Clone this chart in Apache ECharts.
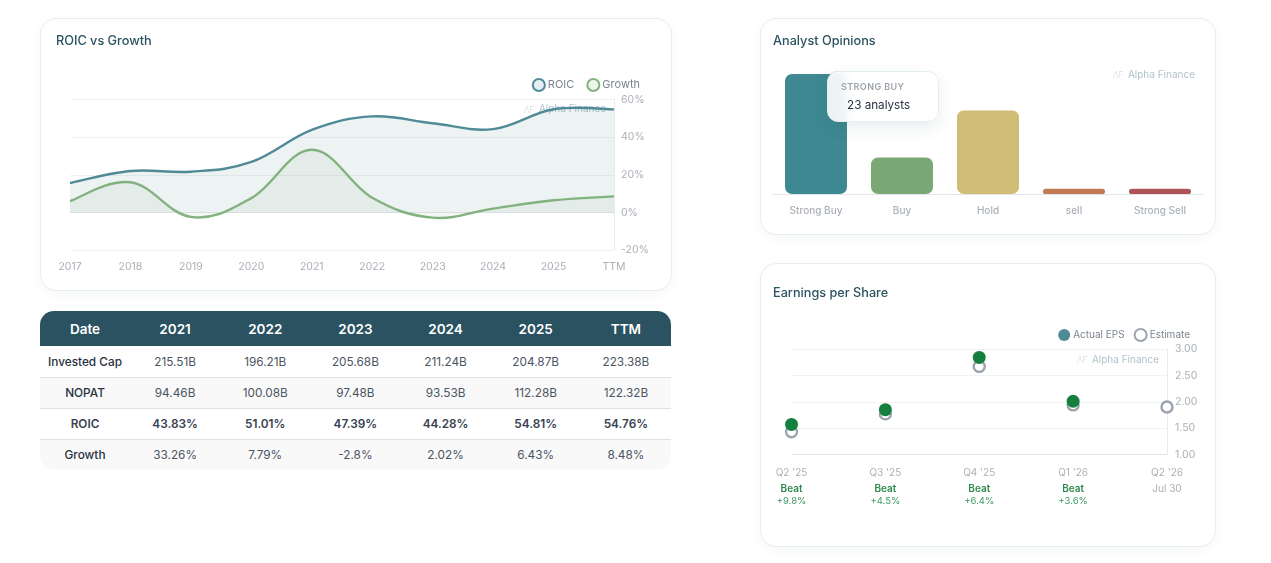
<!DOCTYPE html>
<html>
<head>
<meta charset="utf-8">
<title>Financial overview</title>
<script src="https://cdn.jsdelivr.net/npm/echarts@6/dist/echarts.min.js"></script>
<style>
  html, body { margin: 0; padding: 0; background: #fff; font-family: Inter, sans-serif; }
  body { position: relative; width: 1271px; height: 563px; overflow: hidden; }
  .card { position: absolute; box-sizing: border-box; background: #fff; border: 1px solid #e6edef;
          border-radius: 16px; box-shadow: 0 4px 12px rgba(42, 82, 97, 0.04); }
  .chart { position: absolute; left: -1px; top: -1px; }
  #metrics { position: absolute; left: 40px; top: 311px; width: 631px; border-collapse: separate;
             border-spacing: 0; table-layout: fixed; font-size: 11.8px; color: #4b5563; }
  #metrics th { background: #2a5261; color: #fff; height: 35px; padding: 0; font-size: 13.5px; font-weight: 600; text-align: center; }
  #metrics th:first-child { border-top-left-radius: 14px; width: 90px; }
  #metrics th:last-child { border-top-right-radius: 14px; }
  #metrics td { height: 30px; padding: 0; text-align: center; border-bottom: 1px solid #dfe1e4; }
  #metrics tr:first-child td { height: 31px; }
  #metrics td:first-child { color: #27323f; font-weight: 500; }
  #metrics tr:nth-child(even) td { background: #f9f9f9; }
  #metrics tr.strong td { font-weight: 600; color: #374151; }
  #metrics tr:last-child td { border-bottom: none; height: 30px; }
  #metrics tr:last-child td:first-child { border-bottom-left-radius: 14px; }
  #metrics tr:last-child td:last-child { border-bottom-right-radius: 14px; }
</style>
</head>
<body>
<div class="card" style="left:40px;top:18px;width:632px;height:273px"><div class="chart" id="roicChart" style="width:632px;height:273px"></div></div>
<table id="metrics"><thead></thead><tbody></tbody></table>
<div class="card" style="left:760px;top:18px;width:456px;height:217px"><div class="chart" id="analystChart" style="width:456px;height:217px"></div></div>
<div class="card" style="left:760px;top:263px;width:456px;height:284px"><div class="chart" id="epsChart" style="width:456px;height:284px"></div></div>

<script>
// ROIC vs Growth
const roicYears = ['2017', '2018', '2019', '2020', '2021', '2022', '2023', '2024', '2025', 'TTM'];
const roicValues = [15.6, 22, 21.6, 26.8, 43.83, 51.01, 47.39, 44.28, 54.81, 54.76];
const growthValues = [6, 16, -2.4, 7.6, 33.26, 7.79, -2.8, 2.02, 6.43, 8.48];
const roicTicks = [-20, 0, 20, 40, 60];

// Metrics table
const tableHeader = ['Date', '2021', '2022', '2023', '2024', '2025', 'TTM'];
const investedCap = ['Invested Cap', '215.51B', '196.21B', '205.68B', '211.24B', '204.87B', '223.38B'];
const nopat = ['NOPAT', '94.46B', '100.08B', '97.48B', '93.53B', '112.28B', '122.32B'];
const roicRow = ['ROIC', '43.83%', '51.01%', '47.39%', '44.28%', '54.81%', '54.76%'];
const growthRow = ['Growth', '33.26%', '7.79%', '-2.8%', '2.02%', '6.43%', '8.48%'];

// Analyst opinions
const opinionLabels = ['Strong Buy', 'Buy', 'Hold', 'sell', 'Strong Sell'];
const opinionCounts = [23, 7, 16, 1, 1];
const opinionColors = ['#3d8891', '#7aa874', '#d1bc76', '#c27a55', '#b05555'];

// Earnings per share
const epsQuarters = ["Q2 '25", "Q3 '25", "Q4 '25", "Q1 '26", "Q2 '26"];
const epsActual = [1.57, 1.85, 2.84, 2.01, null];
const epsEstimate = [1.43, 1.77, 2.67, 1.94, 1.9];
const epsStatus = ['Beat', 'Beat', 'Beat', 'Beat', 'Jul 30'];
const epsSurprise = ['+9.8%', '+4.5%', '+6.4%', '+3.6%', ''];

const FONT = 'Inter, sans-serif';
const AXIS_TEXT = '#abb0b7';
const TITLE_COLOR = '#2a5261';

function cardTitle(text, left, top) {
  return { text, left, top, padding: [0, 0, 0, 0], textStyle: { fontFamily: FONT, fontSize: 12.7, fontWeight: 500, color: TITLE_COLOR } };
}

// Brand mark placed inside a chart; x is the right edge of the text, y its vertical centre.
function watermark(x, y) {
  return {
    type: 'group', silent: true, z: 5,
    children: [
      { type: 'text', x, y, style: { text: 'Alpha Finance', fontFamily: FONT, fontSize: 10, fill: '#b2c3ca', verticalAlign: 'middle', textAlign: 'right' } },
      { type: 'text', x: x - 82, y: y + 1, style: { text: '\u039BF', fontFamily: FONT, fontSize: 8.5, fontWeight: 200, fill: '#c3d0d5', verticalAlign: 'middle', textAlign: 'left' } }
    ]
  };
}

// Spline through one series' points, with the area down to the zero line.
function splineSeries(name, values, lineColor, fillColor, ringFill) {
  const tension = 0.19;
  return {
    name, type: 'custom', coordinateSystem: 'cartesian2d',
    data: values.map((v, i) => [i, v]),
    encode: { x: 0, y: 1 },
    itemStyle: { color: ringFill, borderColor: lineColor, borderWidth: 3 },
    renderItem: (params, api) => {
      if (params.dataIndex !== 0) return null;
      const pts = values.map((v, i) => api.coord([i, v]));
      const zeroY = api.coord([0, 0])[1];
      let d = `M${pts[0][0]} ${pts[0][1]}`;
      for (let i = 0; i < pts.length - 1; i++) {
        const p0 = pts[Math.max(i - 1, 0)], p1 = pts[i], p2 = pts[i + 1], p3 = pts[Math.min(i + 2, pts.length - 1)];
        d += `C${p1[0] + (p2[0] - p0[0]) * tension} ${p1[1] + (p2[1] - p0[1]) * tension} ` +
             `${p2[0] - (p3[0] - p1[0]) * tension} ${p2[1] - (p3[1] - p1[1]) * tension} ${p2[0]} ${p2[1]}`;
      }
      const last = pts[pts.length - 1];
      return {
        type: 'group', silent: true,
        children: [
          { type: 'path', shape: { pathData: `${d}L${last[0]} ${zeroY}L${pts[0][0]} ${zeroY}Z` }, style: { fill: fillColor, stroke: null } },
          { type: 'path', shape: { pathData: d }, style: { fill: null, stroke: lineColor, lineWidth: 2.4, lineJoin: 'round' } }
        ]
      };
    }
  };
}

// Table
document.querySelector('#metrics thead').innerHTML =
  '<tr>' + tableHeader.map(h => `<th>${h}</th>`).join('') + '</tr>';
document.querySelector('#metrics tbody').innerHTML =
  [investedCap, nopat, roicRow, growthRow].map(row =>
    `<tr${row === roicRow ? ' class="strong"' : ''}>` + row.map(c => `<td>${c}</td>`).join('') + '</tr>'
  ).join('');

// ROIC vs Growth chart
echarts.init(document.getElementById('roicChart')).setOption({
  animation: false,
  title: cardTitle('ROIC vs Growth', 16, 17),
  legend: {
    top: 55, right: 27, itemWidth: 12, itemHeight: 12, itemGap: 12, icon: 'circle',
    textStyle: { fontFamily: FONT, fontSize: 11, color: '#7d8590', padding: [0, 0, 0, -2] }
  },
  grid: { left: 30, top: 81.5, width: 544, height: 150.5 },
  xAxis: {
    type: 'category', data: roicYears, boundaryGap: false,
    axisTick: { show: false },
    axisLine: { lineStyle: { color: '#e3e6ea' } },
    axisLabel: { fontFamily: FONT, fontSize: 10.5, color: AXIS_TEXT, margin: 11, interval: 0 },
    splitLine: { show: false }
  },
  yAxis: {
    type: 'value', position: 'right', min: roicTicks[0], max: roicTicks[roicTicks.length - 1], interval: 20,
    axisLine: { show: true, lineStyle: { color: '#e8eaee' } },
    axisTick: { show: false },
    axisLabel: { fontFamily: FONT, fontSize: 10.5, color: AXIS_TEXT, margin: 7, formatter: '{value}%' },
    splitLine: { lineStyle: { color: '#f0f2f4' } }
  },
  series: [
    splineSeries('ROIC', roicValues, '#4f8a96', 'rgba(79, 125, 135, 0.1)', '#e6eff1'),
    splineSeries('Growth', growthValues, '#82b27e', 'rgba(120, 160, 115, 0.07)', '#edf4ec')
  ],
  graphic: [watermark(566, 91)]
});

// Analyst opinions chart
const analystChart = echarts.init(document.getElementById('analystChart'));
analystChart.setOption({
  animation: false,
  title: cardTitle('Analyst Opinions', 13, 17),
  grid: { left: 13, top: 56, width: 430, height: 120 },
  tooltip: {
    trigger: 'item', alwaysShowContent: true, showDelay: 0, transitionDuration: 0, padding: 0,
    borderWidth: 0, backgroundColor: 'transparent', extraCssText: 'box-shadow:none;',
    position: [67, 53],
    formatter: p => `<div style="box-sizing:border-box;width:112px;height:51px;border:1px solid #e6edef;border-radius:11px;background:rgba(255,255,255,.9);backdrop-filter:blur(6px);box-shadow:0 6px 16px rgba(42,82,97,.10);font-family:${FONT};position:relative">` +
      `<div style="position:absolute;left:13px;top:9px;font-size:9px;line-height:12px;font-weight:600;letter-spacing:.4px;color:#9ea3ab">${p.name.toUpperCase()}</div>` +
      `<div style="position:absolute;left:19px;top:25px;font-size:11.7px;line-height:16px;color:#27323f">${p.value} analysts</div></div>`
  },
  xAxis: {
    type: 'category', data: opinionLabels,
    axisTick: { show: false },
    axisLine: { lineStyle: { color: '#e3e6ea' } },
    axisLabel: { fontFamily: FONT, fontSize: 10, fontWeight: 500, color: AXIS_TEXT, margin: 12, interval: 0 }
  },
  yAxis: { type: 'value', min: 0, max: 23, show: false, splitLine: { show: false } },
  series: [{
    type: 'bar', barWidth: 62,
    data: opinionCounts.map((value, i) => ({ value, itemStyle: { color: opinionColors[i] } })),
    itemStyle: { borderRadius: 7 }
  }],
  graphic: [watermark(435, 56.5)]
});
analystChart.dispatchAction({ type: 'showTip', seriesIndex: 0, dataIndex: 0 });

// Earnings per share chart
echarts.init(document.getElementById('epsChart')).setOption({
  animation: false,
  title: cardTitle('Earnings per Share', 13, 24),
  legend: {
    top: 60, right: 21, itemWidth: 12, itemHeight: 12, itemGap: 9, icon: 'circle',
    textStyle: { fontFamily: FONT, fontSize: 10, color: '#7d8590', padding: [0, 0, 0, -2] }
  },
  grid: { left: 31.5, top: 86, width: 375.5, height: 105.5 },
  xAxis: {
    type: 'category', data: epsQuarters, boundaryGap: false,
    axisTick: { show: false },
    axisLine: { lineStyle: { color: '#e3e6ea' } },
    splitLine: { show: false },
    axisLabel: {
      interval: 0, margin: 9, fontFamily: FONT,
      formatter: (q, i) => {
        const beat = epsStatus[i] === 'Beat';
        const status = `{${beat ? 'beat' : 'date'}|${epsStatus[i]}}`;
        return `{q|${q}}\n${status}\n{pct|${epsSurprise[i] || ' '}}`;
      },
      rich: {
        q: { fontFamily: FONT, fontSize: 10, color: AXIS_TEXT, height: 19, lineHeight: 19, verticalAlign: 'top' },
        beat: { fontFamily: FONT, fontSize: 10, fontWeight: 600, color: '#2f8a4e', height: 12, lineHeight: 12 },
        date: { fontFamily: FONT, fontSize: 10, color: AXIS_TEXT, height: 12, lineHeight: 12 },
        pct: { fontFamily: FONT, fontSize: 9.5, color: '#3f9a5f', height: 13, lineHeight: 13 }
      }
    }
  },
  yAxis: {
    type: 'value', position: 'right', min: 1, max: 3, interval: 0.5,
    axisLine: { show: true, lineStyle: { color: '#e8eaee' } },
    axisTick: { show: false },
    axisLabel: { fontFamily: FONT, fontSize: 10.5, color: AXIS_TEXT, margin: 8, formatter: v => v.toFixed(2) },
    splitLine: { lineStyle: { color: '#f0f2f4' } }
  },
  series: [
    {
      name: 'Actual EPS', type: 'scatter', symbolSize: 13, z: 4, clip: false,
      itemStyle: { color: '#4f8a96', opacity: 1 },
      data: epsActual.map(v => v === null ? null : ({ value: v, itemStyle: { color: '#15803d', opacity: 1 } }))
    },
    {
      name: 'Estimate', type: 'scatter', symbolSize: 11, z: 3, clip: false,
      itemStyle: { color: '#fff', borderColor: '#9ca3af', borderWidth: 2.4, opacity: 1 },
      data: epsEstimate
    }
  ],
  graphic: [watermark(399, 96.5)]
});
</script>
</body>
</html>
